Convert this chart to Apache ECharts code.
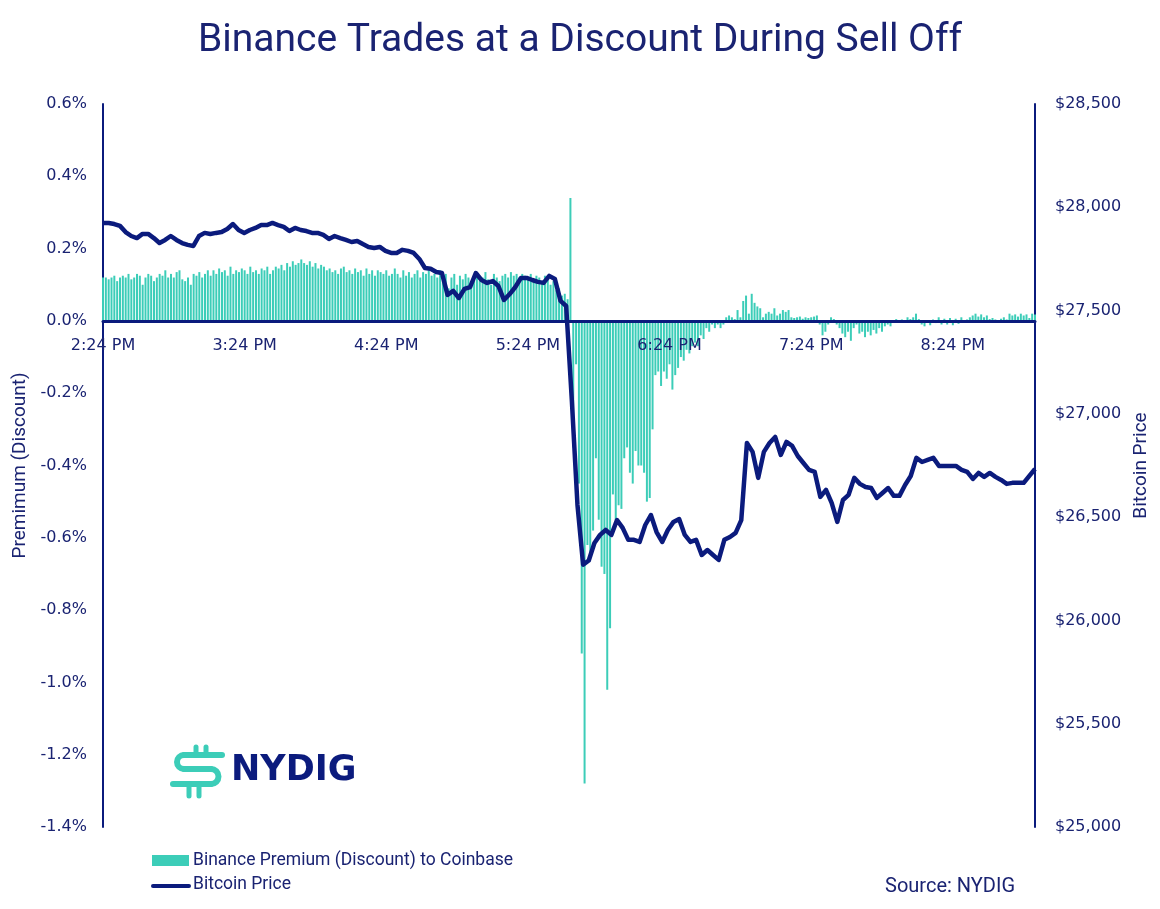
<!DOCTYPE html>
<html><head><meta charset="utf-8">
<script src="https://cdn.jsdelivr.net/npm/echarts@6/dist/echarts.min.js"></script>
<style>html,body{margin:0;padding:0;background:#fff}#c{width:1160px;height:909px}</style>
</head><body><div id="c"></div>
<script>
// ---- data ----
const tickLabels = ['2:24 PM','3:24 PM','4:24 PM','5:24 PM','6:24 PM','7:24 PM','8:24 PM'];
const startMinutes = 14 * 60 + 24;   // 2:24 PM
const barStepMinutes = 1.2;          // one bar every 72 s

// Binance premium (discount) to Coinbase, %
const premium = [
0.12,0.12,0.115,0.12,0.125,0.11,0.12,0.125,0.12,0.13,
0.115,0.12,0.13,0.125,0.10,0.12,0.13,0.125,0.11,0.12,
0.13,0.125,0.14,0.12,0.13,0.12,0.135,0.14,0.115,0.11,
0.12,0.10,0.13,0.125,0.135,0.12,0.13,0.14,0.125,0.14,
0.13,0.145,0.135,0.14,0.125,0.15,0.13,0.14,0.135,0.145,
0.14,0.13,0.15,0.135,0.14,0.13,0.145,0.14,0.15,0.13,
0.14,0.15,0.145,0.155,0.14,0.16,0.15,0.165,0.155,0.16,
0.17,0.16,0.155,0.165,0.15,0.16,0.145,0.155,0.15,0.14,
0.145,0.135,0.14,0.13,0.145,0.15,0.135,0.14,0.13,0.145,
0.135,0.14,0.125,0.145,0.13,0.14,0.125,0.14,0.135,0.13,
0.14,0.125,0.13,0.145,0.13,0.12,0.14,0.125,0.135,0.12,
0.13,0.14,0.12,0.135,0.13,0.14,0.125,0.13,0.12,0.14,
0.11,0.13,0.09,0.12,0.13,0.10,0.125,0.115,0.13,0.12,
0.10,0.125,0.13,0.11,0.12,0.135,0.115,0.10,0.13,0.12,
0.11,0.125,0.13,0.12,0.135,0.125,0.13,0.12,0.13,0.125,
0.12,0.13,0.115,0.125,0.12,0.11,0.125,0.115,0.10,0.11,
0.085,0.09,0.07,0.075,0.06,0.34,-0.35,-0.12,-0.45,-0.92,
-1.28,-0.62,-0.64,-0.58,-0.38,-0.55,-0.68,-0.70,-1.02,-0.85,
-0.48,-0.55,-0.51,-0.52,-0.38,-0.35,-0.42,-0.45,-0.36,-0.40,
-0.40,-0.42,-0.50,-0.49,-0.30,-0.15,-0.14,-0.18,-0.14,-0.16,
-0.12,-0.19,-0.15,-0.13,-0.10,-0.11,-0.08,-0.09,-0.07,-0.06,
-0.07,-0.04,-0.05,-0.02,-0.03,-0.01,-0.02,-0.01,-0.02,-0.01,
0.01,0.015,0.01,0.005,0.03,0.01,0.055,0.07,0.02,0.075,
0.05,0.04,0.035,0.01,0.02,0.025,0.02,0.035,0.015,0.02,
0.03,0.025,0.03,0.01,0.008,0.01,0.012,0.006,0.01,0.008,
0.01,0.012,0.015,-0.01,-0.04,-0.03,-0.01,0.01,0.005,-0.01,
-0.02,-0.035,-0.045,-0.03,-0.055,-0.02,-0.01,-0.035,-0.03,-0.045,
-0.03,-0.04,-0.025,-0.035,-0.02,-0.03,-0.015,-0.01,-0.015,-0.005,
0.005,-0.005,0.004,-0.004,0.01,0.005,0.01,0.02,0.005,-0.01,
-0.015,-0.005,-0.012,0.004,-0.006,0.01,-0.01,0.006,-0.01,0.008,
-0.012,0.006,-0.008,0.01,-0.005,0.004,0.01,0.015,0.02,0.012,
0.018,0.01,0.015,0.005,0.008,0.004,-0.005,0.006,0.01,0.004,
0.02,0.015,0.018,0.012,0.02,0.015,0.018,0.008,0.02,0.018
];

// Bitcoin price, USD (sampled every other bar)
const price = [
27924,27924,27919,27910,27880,27861,27851,27871,27871,27851,
27827,27842,27861,27842,27827,27818,27813,27861,27876,27871,
27876,27880,27895,27919,27890,27876,27890,27900,27914,27914,
27924,27914,27905,27885,27900,27890,27885,27876,27876,27866,
27847,27861,27851,27842,27832,27837,27822,27808,27803,27808,
27789,27779,27779,27794,27789,27779,27750,27706,27702,27687,
27682,27576,27595,27561,27605,27614,27682,27648,27634,27643,
27619,27551,27580,27614,27658,27658,27648,27639,27634,27668,
27653,27547,27522,27067,26559,26270,26290,26375,26414,26438,
26414,26486,26448,26390,26390,26380,26462,26510,26428,26380,
26438,26477,26491,26414,26380,26390,26317,26341,26317,26293,
26390,26404,26424,26486,26859,26816,26690,26816,26859,26888,
26801,26864,26845,26796,26762,26729,26719,26598,26632,26569,
26477,26583,26608,26690,26661,26646,26641,26593,26617,26641,
26603,26603,26656,26699,26787,26767,26777,26787,26748,26748,
26748,26748,26729,26719,26685,26714,26695,26714,26695,26680,
26661,26666,26666,26666,26700,26733
];

const leftAxis = { min: -1.4, max: 0.6, step: 0.2 };
const rightAxis = { min: 25000, max: 28500, step: 500 };

// ---- build ----
function fmtTime(m) {
  const s = Math.round(m * 60);
  const h = Math.floor(s / 3600), mm = Math.floor((s % 3600) / 60), ss = s % 60;
  return h + ':' + String(mm).padStart(2, '0') + ':' + String(ss).padStart(2, '0');
}
const barCats = premium.map((_, i) => fmtTime(startMinutes + i * barStepMinutes));
const totalMinutes = (premium.length - 1) * barStepMinutes;
const lineCats = price.map((_, j) => fmtTime(startMinutes + j * totalMinutes / (price.length - 1)));

const NAVY = '#0b1b7d';
const TEXT = '#1a2372';
const TEAL = '#3ccdb8';
const NUMFONT = 'DejaVu Sans';
const NAMEFONT = 'Roboto';

const GRID = { left: 103, right: 125, top: 104, bottom: 82 };
const plotH = 909 - GRID.top - GRID.bottom;
// move the category axis (line + labels) up to the 0% level of the left axis
const zeroOffset = -plotH * (0 - leftAxis.min) / (leftAxis.max - leftAxis.min);

const chart = echarts.init(document.getElementById('c'), null, { renderer: 'canvas' });
const logoLine = (x1, y1, x2, y2, w) => ({ type: 'line', z: 10, shape: { x1, y1, x2, y2 },
  style: { stroke: TEAL, lineWidth: w, lineCap: 'round' } });
chart.setOption({
  backgroundColor: '#fff',
  animation: false,
  title: {
    text: 'Binance Trades at a Discount During Sell Off',
    left: 'center', top: 17,
    textStyle: { color: TEXT, fontSize: 39, fontWeight: 'normal', fontFamily: NAMEFONT }
  },
  grid: Object.assign({ containLabel: false }, GRID),
  xAxis: [{
    type: 'category', data: barCats, boundaryGap: false, z: 5,
    position: 'bottom', offset: zeroOffset,
    axisLine: { onZero: false, lineStyle: { color: NAVY, width: 3 } },
    axisTick: { show: false },
    splitLine: { show: false },
    axisLabel: {
      interval: 49, margin: 17, color: TEXT, fontSize: 16, fontFamily: NUMFONT,
      formatter: (v, idx) => (idx % 50 === 0 ? tickLabels[idx / 50] || '' : '')
    }
  }, {
    type: 'category', data: lineCats, boundaryGap: false, show: false
  }],
  yAxis: [{
    type: 'value', min: leftAxis.min, max: leftAxis.max, interval: leftAxis.step,
    position: 'left',
    name: 'Premimum (Discount)', nameLocation: 'middle', nameGap: 72, nameRotate: 90,
    nameTextStyle: { color: TEXT, fontSize: 19, fontFamily: NAMEFONT },
    axisLine: { show: true, lineStyle: { color: NAVY, width: 2 } },
    axisTick: { show: false }, splitLine: { show: false },
    axisLabel: { color: TEXT, fontSize: 16, fontFamily: NUMFONT, margin: 16,
      formatter: v => (Math.round(v * 10) / 10).toFixed(1) + '%' }
  }, {
    type: 'value', min: rightAxis.min, max: rightAxis.max, interval: rightAxis.step,
    position: 'right',
    name: 'Bitcoin Price', nameLocation: 'middle', nameGap: 97, nameRotate: 90,
    nameTextStyle: { color: TEXT, fontSize: 19, fontFamily: NAMEFONT },
    axisLine: { show: true, lineStyle: { color: NAVY, width: 2 } },
    axisTick: { show: false }, splitLine: { show: false },
    axisLabel: { color: TEXT, fontSize: 16, fontFamily: NUMFONT, margin: 20,
      formatter: v => '$' + Math.round(v).toLocaleString('en-US') }
  }],
  series: [{
    name: 'Binance Premium (Discount) to Coinbase',
    type: 'bar', xAxisIndex: 0, yAxisIndex: 0, data: premium,
    barWidth: 2, itemStyle: { color: TEAL }, z: 2
  }, {
    name: 'Bitcoin Price',
    type: 'line', xAxisIndex: 1, yAxisIndex: 1, data: price,
    symbol: 'none', lineStyle: { color: NAVY, width: 4.5, join: 'round' }, z: 4
  }],
  graphic: [
    // NYDIG logo
    logoLine(184, 755, 222, 755, 6),
    { type: 'arc', z: 10, shape: { cx: 184, cy: 762, r: 7, startAngle: Math.PI / 2, endAngle: Math.PI * 1.5, clockwise: true },
      style: { fill: null, stroke: TEAL, lineWidth: 6 } },
    logoLine(184, 769, 211, 769, 6),
    { type: 'arc', z: 10, shape: { cx: 211, cy: 776.5, r: 7.5, startAngle: -Math.PI / 2, endAngle: Math.PI / 2, clockwise: true },
      style: { fill: null, stroke: TEAL, lineWidth: 6 } },
    logoLine(173, 784, 211, 784, 6),
    logoLine(196, 747, 196, 755, 5),
    logoLine(206, 747, 206, 755, 5),
    logoLine(189, 784, 189, 796, 5),
    logoLine(199, 784, 199, 796, 5),
    { type: 'text', z: 10, x: 231, y: 771, style: { text: 'NYDIG', fill: NAVY, font: 'bold 35px "DejaVu Sans"', textVerticalAlign: 'middle' } },
    // legend
    { type: 'rect', z: 10, shape: { x: 152, y: 855, width: 37, height: 11 }, style: { fill: TEAL } },
    { type: 'text', z: 10, x: 193, y: 861, style: { text: 'Binance Premium (Discount) to Coinbase', fill: TEXT, font: '17.5px Roboto', textVerticalAlign: 'middle' } },
    { type: 'line', z: 10, shape: { x1: 153, y1: 886, x2: 189, y2: 886 }, style: { stroke: NAVY, lineWidth: 4, lineCap: 'round' } },
    { type: 'text', z: 10, x: 193, y: 885, style: { text: 'Bitcoin Price', fill: TEXT, font: '17.5px Roboto', textVerticalAlign: 'middle' } },
    // source
    { type: 'text', z: 10, x: 1015, y: 887, style: { text: 'Source: NYDIG', fill: TEXT, font: '20px Roboto', textAlign: 'right', textVerticalAlign: 'middle' } }
  ]
});
</script>
</body></html>
